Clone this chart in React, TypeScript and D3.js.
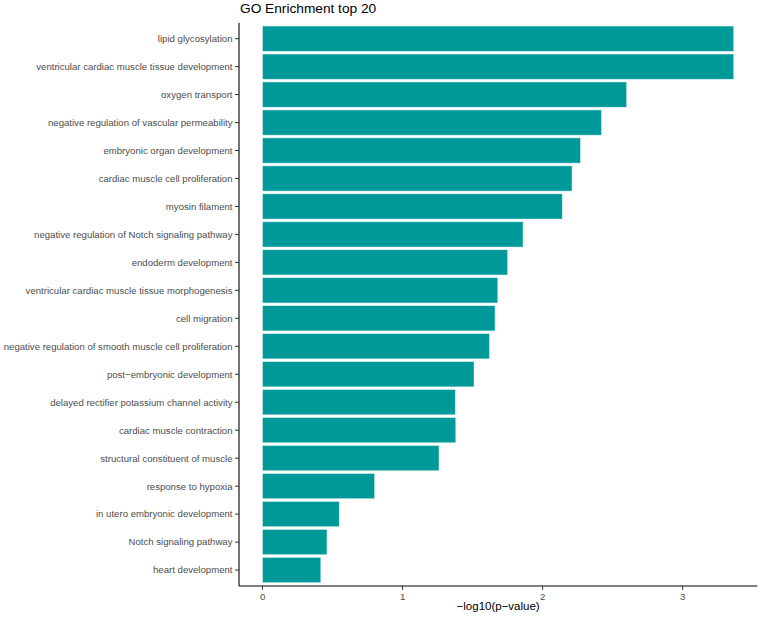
import React from "react";
import * as d3 from "d3";

const categories: string[] = [
  "lipid glycosylation",
  "ventricular cardiac muscle tissue development",
  "oxygen transport",
  "negative regulation of vascular permeability",
  "embryonic organ development",
  "cardiac muscle cell proliferation",
  "myosin filament",
  "negative regulation of Notch signaling pathway",
  "endoderm development",
  "ventricular cardiac muscle tissue morphogenesis",
  "cell migration",
  "negative regulation of smooth muscle cell proliferation",
  "post\u2212embryonic development",
  "delayed rectifier potassium channel activity",
  "cardiac muscle contraction",
  "structural constituent of muscle",
  "response to hypoxia",
  "in utero embryonic development",
  "Notch signaling pathway",
  "heart development",
];

const values: number[] = [
  3.365, 3.365, 2.6, 2.42, 2.27, 2.21, 2.14, 1.86, 1.75, 1.68, 1.66, 1.62,
  1.51, 1.376, 1.38, 1.26, 0.8, 0.547, 0.46, 0.416,
];

const xTicks: number[] = [0, 1, 2, 3];
const title = "GO Enrichment top 20";
const xTitle = "\u2212log10(p\u2212value)";

const W = 760;
const H = 618;
const panel = { left: 239, right: 757.3, top: 22.7, bottom: 586 };
const FONT = "'Liberation Sans', Arial, sans-serif";

export default function App() {
  const maxV = d3.max(values) as number;
  const pad = maxV * 0.05;
  const x = d3
    .scaleLinear()
    .domain([-pad, maxV + pad])
    .range([panel.left, panel.right]);
  const y = d3
    .scaleLinear()
    .domain([-0.57, categories.length - 1 + 0.57])
    .range([panel.top, panel.bottom]);
  const step = y(1) - y(0);
  const bh = step * 0.9;

  return (
    <svg
      width={W}
      height={H}
      style={{ position: "absolute", left: 0, top: 0, background: "#fff" }}
      fontFamily={FONT}
    >
      <text x={panel.left + 1} y={13} fontSize={13.7} fill="#000">
        {title}
      </text>
      {categories.map((c, i) => (
        <rect
          key={c}
          x={x(0)}
          y={y(i) - bh / 2}
          width={x(values[i]) - x(0)}
          height={bh}
          fill="#009999"
          stroke="#d8efef"
          strokeWidth={0.5}
        />
      ))}
      {/* y axis */}
      <line
        x1={panel.left}
        x2={panel.left}
        y1={panel.top}
        y2={panel.bottom}
        stroke="#000"
        strokeWidth={1.1}
      />
      {categories.map((c, i) => (
        <g key={"yt" + c}>
          <line
            x1={panel.left - 4}
            x2={panel.left}
            y1={y(i)}
            y2={y(i)}
            stroke="#333"
            strokeWidth={1}
          />
          <text
            x={panel.left - 6.5}
            y={y(i)}
            dy="0.35em"
            textAnchor="end"
            fontSize={9.6}
            fill="#4d4d4d"
          >
            {c}
          </text>
        </g>
      ))}
      {/* x axis */}
      <line
        x1={panel.left}
        x2={panel.right}
        y1={panel.bottom}
        y2={panel.bottom}
        stroke="#000"
        strokeWidth={1.1}
      />
      {xTicks.map((t) => (
        <g key={"xt" + t}>
          <line
            x1={x(t)}
            x2={x(t)}
            y1={panel.bottom}
            y2={panel.bottom + 4}
            stroke="#333"
            strokeWidth={1}
          />
          <text
            x={x(t)}
            y={panel.bottom + 13.5}
            textAnchor="middle"
            fontSize={9.6}
            fill="#4d4d4d"
          >
            {t}
          </text>
        </g>
      ))}
      <text
        x={(panel.left + panel.right) / 2}
        y={610}
        textAnchor="middle"
        fontSize={11.5}
        fill="#000"
      >
        {xTitle}
      </text>
    </svg>
  );
}
